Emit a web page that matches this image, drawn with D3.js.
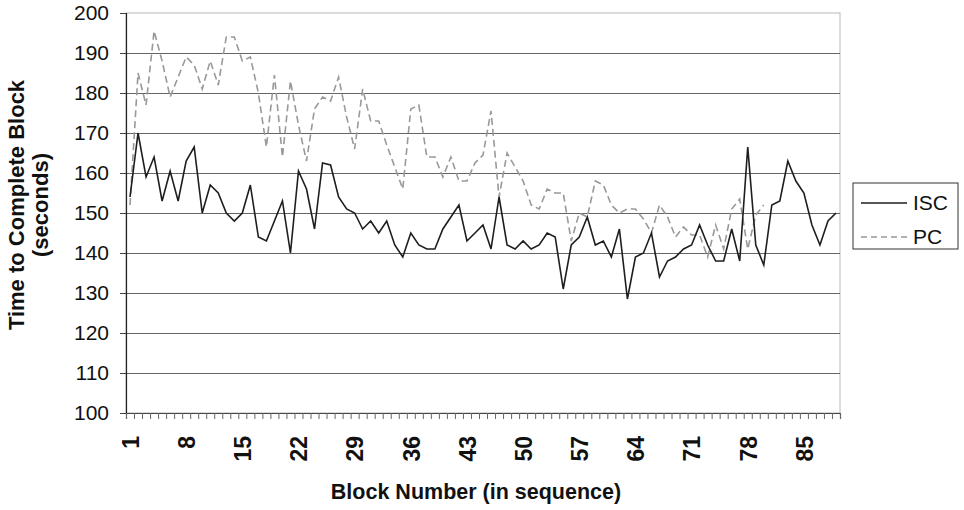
<!DOCTYPE html>
<html lang="en">
<head>
    <meta charset="UTF-8">
    <script src="https://d3js.org/d3.v7.min.js"></script>
    <title>Time to Complete Block</title>
    <style>
        body { margin: 0; background: #fff; }
        svg { font-family: "Liberation Sans", Arial, sans-serif; }
    </style>
</head>
<body>

<script>
    // block numbers 1..89
    const blocks = d3.range(1, 90);
    const xLabels = [1, 8, 15, 22, 29, 36, 43, 50, 57, 64, 71, 78, 85];
    const yTicks = [100, 110, 120, 130, 140, 150, 160, 170, 180, 190, 200];

    const isc = [154, 170, 159, 164, 153, 160.5, 153, 163, 166.5, 150,
                 157, 155, 150, 148, 150, 157, 144, 143, 148, 153,
                 140, 160.5, 156, 146, 162.5, 162, 154, 151, 150, 146,
                 148, 145, 148, 142, 139, 145, 142, 141, 141, 146,
                 149, 152, 143, 145, 147, 141, 154, 142, 141, 143,
                 141, 142, 145, 144, 131, 142, 144, 149, 142, 143,
                 139, 146, 128.5, 139, 140, 145, 134, 138, 139, 141,
                 142, 147, 142, 138, 138, 146, 138, 166.5, 142, 137,
                 152, 153, 163, 158, 155, 147, 142, 148, 150];

    const pc = [152, 185, 177, 195.5, 188, 179, 184, 189, 187, 181,
                188, 182, 194, 194, 188, 189, 180, 166.5, 184.5, 164,
                183, 172, 163, 176, 179, 178, 184, 174, 166, 181,
                173, 173, 167, 161.5, 156, 176, 177, 164, 164, 159,
                164, 158, 158, 162.5, 164.5, 175.5, 154, 165, 161.5, 158,
                152, 151, 156, 155, 155, 143, 150, 149, 158, 157,
                152, 150, 151, 151, 148.5, 145, 152, 149, 144, 146.5,
                144.5, 144.5, 139, 147, 141, 151, 153.5, 141, 149.5, 152];

    const series = [
        { name: "ISC", values: isc },
        { name: "PC", values: pc }
    ];

    const W = 964, H = 510;
    const margin = { top: 13, right: 124, bottom: 97, left: 126 };
    const width = W - margin.left - margin.right;
    const height = H - margin.top - margin.bottom;

    const xScale = d3.scaleLinear()
        .domain([0.5, blocks.length + 0.5])
        .range([0, width]);

    const yScale = d3.scaleLinear()
        .domain([100, 200])
        .range([height, 0]);

    const svg = d3.select("body").append("svg")
        .attr("width", W)
        .attr("height", H);

    const g = svg.append("g")
        .attr("transform", "translate(" + margin.left + "," + margin.top + ")");

    // plot border (light)
    g.append("rect")
        .attr("width", width)
        .attr("height", height)
        .attr("fill", "none")
        .attr("stroke", "#b8b8b8");

    // gridlines
    g.selectAll("line.grid")
        .data(yTicks.filter(d => d > 100 && d < 200))
        .enter().append("line")
        .attr("class", "grid")
        .attr("x1", 0)
        .attr("x2", width)
        .attr("y1", d => yScale(d) + 0.5)
        .attr("y2", d => yScale(d) + 0.5)
        .attr("stroke", "#666")
        .attr("stroke-width", 1.2);

    const line = d3.line()
        .x((d, i) => xScale(i + 1))
        .y(d => yScale(d));

    // lines
    g.append("path")
        .datum(pc)
        .attr("fill", "none")
        .attr("stroke", "#999")
        .attr("stroke-width", 1.6)
        .attr("stroke-dasharray", "7,4")
        .attr("d", line);

    g.append("path")
        .datum(isc)
        .attr("fill", "none")
        .attr("stroke", "#1e1e1e")
        .attr("stroke-width", 1.6)
        .attr("d", line);

    // y axis
    const yAxis = g.append("g")
        .call(d3.axisLeft(yScale).tickValues(yTicks).tickSize(6).tickPadding(11));
    yAxis.select(".domain").attr("stroke", "#222").attr("stroke-width", 1.2);
    yAxis.selectAll(".tick line").attr("stroke", "#444");
    yAxis.selectAll("text")
        .attr("font-size", "21px")
        .attr("fill", "#111");

    // x axis: tick marks between blocks
    const xAxis = g.append("g")
        .attr("transform", "translate(0," + height + ")")
        .call(d3.axisBottom(xScale)
            .tickValues(d3.range(0.5, blocks.length + 1, 1))
            .tickSize(6)
            .tickFormat(""));
    xAxis.select(".domain").attr("stroke", "#444").attr("stroke-width", 1.2);
    xAxis.selectAll(".tick line").attr("stroke", "#666");

    // x labels
    const xLab = g.append("g")
        .attr("transform", "translate(0," + height + ")")
        .call(d3.axisBottom(xScale).tickValues(xLabels).tickSize(0).tickFormat(d3.format("d")));
    xLab.select(".domain").remove();
    xLab.selectAll("text")
        .attr("font-size", "23px")
        .attr("font-weight", "bold")
        .attr("fill", "#111")
        .attr("y", 0)
        .attr("dy", "0.36em")
        .attr("text-anchor", "end")
        .attr("transform", "translate(0,23) rotate(-90)");

    // x axis label
    svg.append("text")
        .attr("x", margin.left + width / 2 - 7)
        .attr("y", 499)
        .attr("text-anchor", "middle")
        .attr("font-size", "21.5px")
        .attr("font-weight", "bold")
        .attr("fill", "#111")
        .text("Block Number (in sequence)");

    // y axis label
    const yTitle = svg.append("text")
        .attr("transform", "translate(0," + (margin.top + height / 2 - 8) + ") rotate(-90)")
        .attr("text-anchor", "middle")
        .attr("font-size", "22px")
        .attr("font-weight", "bold")
        .attr("fill", "#111");
    yTitle.append("tspan").attr("x", 0).attr("y", 24).text("Time to Complete Block");
    yTitle.append("tspan").attr("x", 0).attr("y", 48).text("(seconds)");

    // legend
    const legend = svg.append("g").attr("transform", "translate(853,183)");
    legend.append("rect")
        .attr("width", 105)
        .attr("height", 66)
        .attr("fill", "#fff")
        .attr("stroke", "#333");
    legend.selectAll("g.item")
        .data(series)
        .enter().append("g")
        .attr("transform", (d, i) => "translate(0," + (20 + i * 34) + ")")
        .each(function(d, i) {
            const item = d3.select(this);
            item.append("line")
                .attr("x1", 8).attr("x2", 54)
                .attr("stroke", i === 0 ? "#1e1e1e" : "#999")
                .attr("stroke-width", 1.6)
                .attr("stroke-dasharray", i === 0 ? null : "6,4");
            item.append("text")
                .attr("x", 60)
                .attr("dy", "0.35em")
                .attr("font-size", "21px")
                .attr("fill", "#111")
                .text(d.name);
        });
</script>

</body>
</html>
